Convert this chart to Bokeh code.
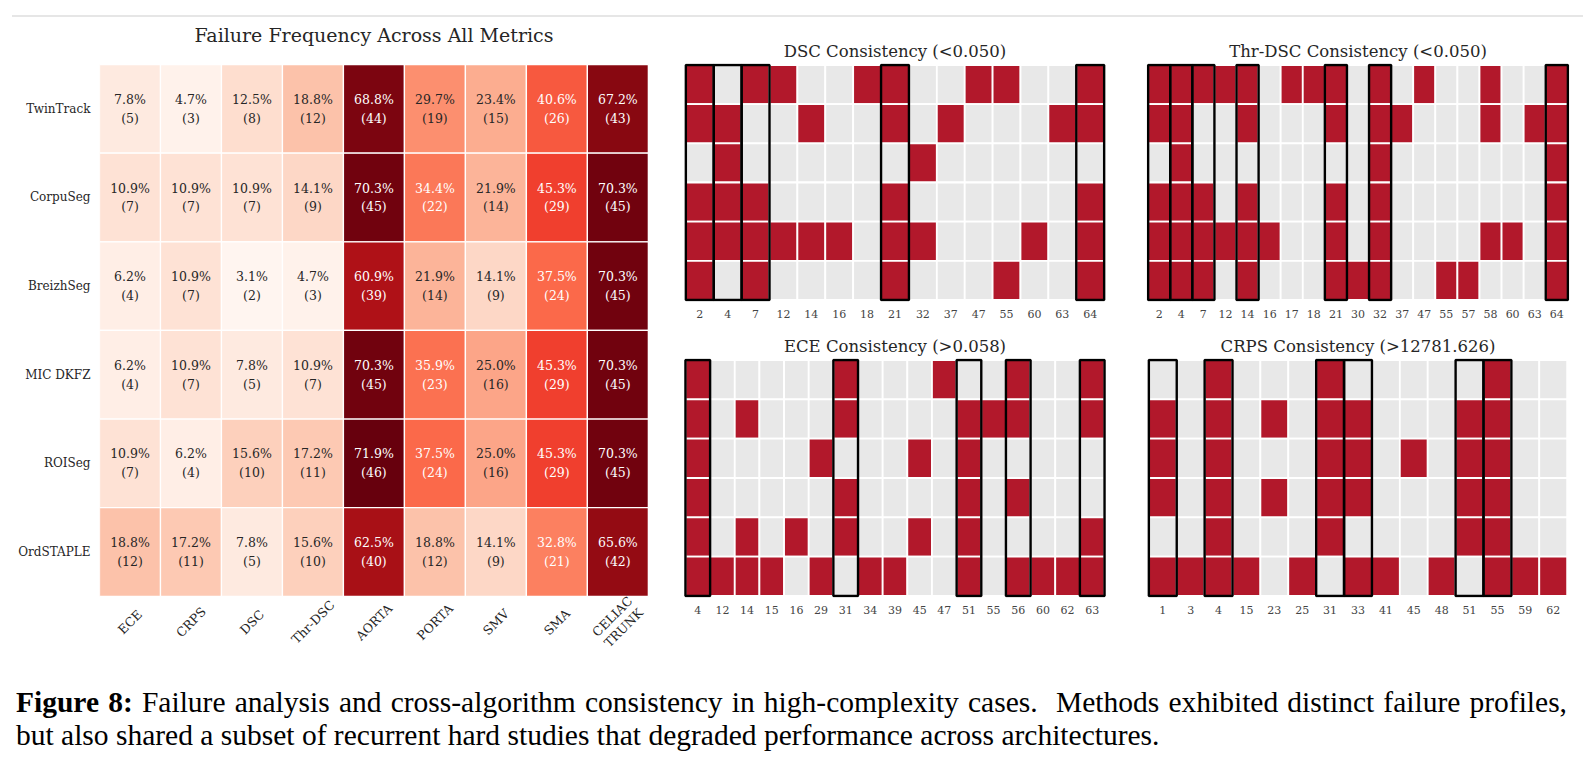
import numpy as np
from bokeh.core.properties import value
from bokeh.embed import file_html
from bokeh.layouts import column, row
from bokeh.models import ColumnDataSource, Div, FactorRange, FixedTicker, Range1d
from bokeh.palettes import Reds9
from bokeh.plotting import figure
from bokeh.resources import INLINE
from bokeh.transform import linear_cmap

SERIF = "DejaVu Serif"
INK = "#262626"
FAIL_RED = "#b2182b"
PASS_GRAY = "#e8e8e8"

# ---------------------------------------------------------------- data
methods = ["TwinTrack", "CorpuSeg", "BreizhSeg", "MIC DKFZ", "ROISeg", "OrdSTAPLE"]
metrics = ["ECE", "CRPS", "DSC", "Thr-DSC", "AORTA", "PORTA", "SMV", "SMA", "CELIAC\nTRUNK"]
n_cases = 64

# number of failed cases (out of n_cases) per metric, one list per method
twintrack_fails = [5, 3, 8, 12, 44, 19, 15, 26, 43]
corpuseg_fails = [7, 7, 7, 9, 45, 22, 14, 29, 45]
breizhseg_fails = [4, 7, 2, 3, 39, 14, 9, 24, 45]
micdkfz_fails = [4, 7, 5, 7, 45, 23, 16, 29, 45]
roiseg_fails = [7, 4, 10, 11, 46, 24, 16, 29, 45]
ordstaple_fails = [12, 11, 5, 10, 40, 12, 9, 21, 42]

# consistency panels: case ids on the x axis and, per method, the cases that failed
dsc_cases = [2, 4, 7, 12, 14, 16, 18, 21, 32, 37, 47, 55, 60, 63, 64]
dsc_failures = [
    [2, 7, 12, 18, 21, 47, 55, 64],
    [2, 4, 14, 21, 37, 63, 64],
    [4, 32],
    [2, 4, 7, 21, 64],
    [2, 4, 7, 12, 14, 16, 21, 32, 60, 64],
    [2, 7, 21, 55, 64],
]

thr_dsc_cases = [2, 4, 7, 12, 14, 16, 17, 18, 21, 30, 32, 37, 47, 55, 57, 58, 60, 63, 64]
thr_dsc_failures = [
    [2, 4, 7, 12, 14, 17, 18, 21, 32, 47, 58, 64],
    [2, 4, 14, 21, 32, 37, 58, 63, 64],
    [4, 32, 64],
    [2, 4, 7, 14, 21, 32, 64],
    [2, 4, 7, 12, 14, 16, 21, 32, 58, 60, 64],
    [2, 4, 7, 14, 21, 30, 32, 55, 57, 64],
]

ece_cases = [4, 12, 14, 15, 16, 29, 31, 34, 39, 45, 47, 51, 55, 56, 60, 62, 63]
ece_failures = [
    [4, 31, 47, 56, 63],
    [4, 14, 31, 51, 55, 56, 63],
    [4, 29, 45, 51],
    [4, 31, 51, 56],
    [4, 14, 16, 31, 45, 51, 63],
    [4, 12, 14, 15, 29, 34, 39, 51, 56, 60, 62, 63],
]

crps_cases = [1, 3, 4, 15, 23, 25, 31, 33, 41, 45, 48, 51, 55, 59, 62]
crps_failures = [
    [4, 31, 55],
    [1, 4, 23, 31, 33, 51, 55],
    [1, 4, 31, 33, 45, 51, 55],
    [1, 4, 23, 31, 33, 51, 55],
    [4, 31, 51, 55],
    [1, 3, 4, 15, 25, 33, 41, 48, 55, 59, 62],
]

dsc_threshold = ("<", 0.05)
thr_dsc_threshold = ("<", 0.05)
ece_threshold = (">", 0.058)
crps_threshold = (">", 12781.626)

# a case is outlined when at least this many methods fail on it
MIN_AGREEMENT = 4

# ------------------------------------------------------- colour helpers
def _rgb(h):
    return tuple(int(h[i:i + 2], 16) for i in (1, 3, 5))


_anchors = sorted((_rgb(c) for c in Reds9), key=lambda c: -sum(c))  # light -> dark
_anchors = np.array(_anchors, dtype=float)
_pos = np.linspace(0.0, 1.0, len(_anchors))


def reds_rgb(t):
    return [float(np.interp(t, _pos, _anchors[:, k])) for k in range(3)]


reds256 = ["#%02x%02x%02x" % tuple(int(round(v)) for v in reds_rgb(t))
           for t in np.linspace(0.0, 1.0, 256)]


def rel_luminance(rgb):
    out = []
    for v in rgb:
        v = v / 255.0
        out.append(v / 12.92 if v <= 0.03928 else ((v + 0.055) / 1.055) ** 2.4)
    return 0.2126 * out[0] + 0.7152 * out[1] + 0.0722 * out[2]


# ------------------------------------------------------------ heatmap
fail_counts = [twintrack_fails, corpuseg_fails, breizhseg_fails,
               micdkfz_fails, roiseg_fails, ordstaple_fails]
n_rows, n_cols = len(methods), len(metrics)
lo = min(min(r) for r in fail_counts)
hi = max(max(r) for r in fail_counts)

cells = dict(x=[], y=[], count=[], label=[], tcolor=[])
for i, counts in enumerate(fail_counts):
    for j, cnt in enumerate(counts):
        pct = 100.0 * cnt / n_cases
        cells["x"].append(j + 0.5)
        cells["y"].append(n_rows - 0.5 - i)
        cells["count"].append(cnt)
        cells["label"].append(f"{pct:.1f}%\n({cnt})")
        idx = int(np.clip((cnt - lo) / (hi - lo) * 256, 0, 255))
        lum = rel_luminance(_rgb(reds256[idx]))
        cells["tcolor"].append(INK if lum > 0.408 else "#ffffff")
cell_src = ColumnDataSource(cells)

# the frame also holds the title strip above the cells and the rotated
# metric names below them
TITLE_Y = n_rows + 0.33
LABEL_Y = -0.29
heat = figure(
    x_range=Range1d(0, n_cols + 0.15),
    y_range=Range1d(-0.6, n_rows + 0.474),
    frame_width=558, frame_height=627,
    min_border_left=99, min_border_right=3, min_border_top=2, min_border_bottom=7,
    toolbar_location=None, output_backend="svg",
)
heat.rect(x="x", y="y", width=1, height=1, source=cell_src,
          fill_color=linear_cmap("count", reds256, lo, hi),
          line_color="white", line_width=1.3)
heat.text(x="x", y="y", text="label", source=cell_src,
          text_color="tcolor", text_font=value(SERIF), text_font_size="12.5px",
          text_align="center", text_baseline="middle", text_line_height=1.25)

heat.text(x=[j + 0.5 for j in range(n_cols)], y=[LABEL_Y] * n_cols, text=metrics,
          angle=np.pi / 4, text_align="center", text_baseline="middle",
          text_font=value(SERIF), text_font_size="12.5px", text_color=INK,
          text_line_height=1.05)
heat.text(x=[n_cols / 2], y=[TITLE_Y], text=["Failure Frequency Across All Metrics"],
          text_align="center", text_baseline="middle",
          text_font=value(SERIF), text_font_size="19px", text_color=INK)

row_ticks = [n_rows - 0.5 - i for i in range(n_rows)]
heat.xaxis.visible = False
heat.yaxis.ticker = FixedTicker(ticks=row_ticks)
heat.yaxis.major_label_overrides = {t: m for t, m in zip(row_ticks, methods)}
heat.yaxis.axis_line_color = None
heat.yaxis.major_tick_line_color = None
heat.yaxis.minor_tick_line_color = None
heat.yaxis.major_tick_out = 0
heat.yaxis.major_tick_in = 0
heat.yaxis.major_label_standoff = 9
heat.yaxis.major_label_text_font = SERIF
heat.yaxis.major_label_text_font_size = "12px"
heat.yaxis.major_label_text_color = INK
heat.grid.visible = False
heat.outline_line_color = None


# ------------------------------------------------- consistency panels
def consistency_panel(name, threshold, cases, failures, border):
    op, thr = threshold
    factors = [str(c) for c in cases]
    n = len(failures)
    x, y, color = [], [], []
    for i, failed in enumerate(failures):
        for c in cases:
            x.append(str(c))
            y.append(n - 0.5 - i)
            color.append(FAIL_RED if c in failed else PASS_GRAY)
    src = ColumnDataSource(dict(case=x, row=y, color=color))

    left, right, top, bottom, fh = border
    p = figure(
        x_range=FactorRange(factors=factors, range_padding=0.12,
                            range_padding_units="absolute"),
        y_range=Range1d(-0.04, n + 0.04),
        frame_width=425, frame_height=fh,
        min_border_left=left, min_border_right=right,
        min_border_top=top, min_border_bottom=bottom,
        toolbar_location=None, output_backend="svg",
        title=f"{name} Consistency ({op}{thr:.3f})",
    )
    p.rect(x="case", y="row", width=1, height=1, source=src,
           fill_color="color", line_color="white", line_width=1.8)

    agree = [str(c) for c in cases
             if sum(c in failed for failed in failures) >= MIN_AGREEMENT]
    p.rect(x=agree, y=[n / 2] * len(agree), width=1, height=n,
           fill_color=None, line_color="black", line_width=2.4)

    p.yaxis.visible = False
    p.xaxis.axis_line_color = None
    p.xaxis.major_tick_line_color = None
    p.xaxis.minor_tick_line_color = None
    p.xaxis.major_tick_out = 0
    p.xaxis.major_tick_in = 0
    p.xaxis.major_label_standoff = 8
    p.xaxis.major_label_text_font = SERIF
    p.xaxis.major_label_text_font_size = "11px"
    p.xaxis.major_label_text_color = "#444444"
    p.grid.visible = False
    p.outline_line_color = None
    p.title.align = "center"
    p.title.text_font = SERIF
    p.title.text_font_size = "16.5px"
    p.title.text_font_style = "normal"
    p.title.text_color = INK
    p.title.standoff = 6
    return p


dsc_fig = consistency_panel("DSC", dsc_threshold, dsc_cases, dsc_failures,
                            (22, 20, 43, 29, 238))
thr_fig = consistency_panel("Thr-DSC", thr_dsc_threshold, thr_dsc_cases,
                            thr_dsc_failures, (18, 25, 43, 29, 238))
ece_fig = consistency_panel("ECE", ece_threshold, ece_cases, ece_failures,
                            (22, 20, 28, 59, 239))
crps_fig = consistency_panel("CRPS", crps_threshold, crps_cases, crps_failures,
                             (18, 25, 28, 59, 239))

# ------------------------------------------------------------ page
rule = Div(text="", width=1571, height=2, margin=(15, 12, 3, 12),
           styles={"background-color": "#e6e6e6"})

caption = Div(
    text=(
        '<div style="font-family:\'Liberation Serif\',serif;font-size:29.5px;'
        'line-height:32.5px;color:#000;padding:30px 0 0 16px;width:1567px">'
        '<div style="text-align:justify;text-align-last:justify;white-space:nowrap">'
        '<b>Figure 8:</b> Failure analysis and cross-algorithm consistency in '
        'high-complexity cases.&nbsp; Methods exhibited distinct failure profiles,</div>'
        '<div style="white-space:nowrap">but also shared a subset of recurrent hard '
        'studies that degraded performance across architectures.</div></div>'
    ),
    width=1595, height=115, margin=(0, 0, 0, 0),
)

grids = column(row(dsc_fig, thr_fig), row(ece_fig, crps_fig))
page = column(rule, row(heat, grids), caption)

open("out.html", "w").write(file_html(page, INLINE))
